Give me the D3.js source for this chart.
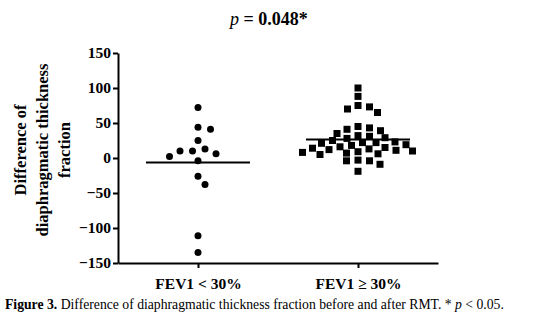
<!DOCTYPE html>
<html>
<head>
<meta charset="utf-8">
<script src="https://cdn.jsdelivr.net/npm/d3@7"></script>
<style>
  html, body { margin: 0; padding: 0; background: #fff; }
  svg { display: block; }
  .axis path, .axis line { stroke: #000; stroke-width: 2; }
  .axis text { font-family: "Liberation Serif", "Times New Roman", serif; font-weight: bold; font-size: 15.5px; fill: #000; }
</style>
</head>
<body>
<script>
// ---- data ----
const categories = ["FEV1 < 30%", "FEV1 \u2265 30%"];
const group1 = [72, 44, 41, 25, 13, 10, 10, 6, 2, -4, -26, -38, -111, -135];
const group2 = [100, 88, 75, 73, 70, 65, 45, 43, 41, 39, 35, 32, 31, 29, 28, 25, 23, 22, 22, 21,
                19, 18, 16, 15, 14, 13, 12, 11, 10, 9, 8, 7, 6, 5, -3, -4, -4, -9, -19];
const yTicks = [-150, -100, -50, 0, 50, 100, 150];
const titleText = "= 0.048*";
const yTitleLines = ["Difference of", "diaphragmatic thickness", "fraction"];

const W = 541, H = 325;
const svg = d3.select("body").append("svg").attr("width", W).attr("height", H);

const y = d3.scaleLinear().domain([-150, 150]).range([263, 53]);
const x = d3.scalePoint().domain(categories).range([118, 438]).padding(0.5);

// y axis
svg.append("g").attr("class", "axis")
  .attr("transform", "translate(118,0)")
  .call(d3.axisLeft(y).tickValues(yTicks).tickSize(5).tickSizeOuter(0).tickPadding(2).tickFormat(d3.format("d")));

// x axis
svg.append("g").attr("class", "axis")
  .attr("transform", "translate(0,263)")
  .call(d3.axisBottom(x).tickSize(5).tickSizeOuter(0).tickPadding(10));

// swarm layout (computed from values), elliptical collision
function swarm(values, cx, Dx, Dy) {
  const pts = values.map(v => ({ v, py: y(v) })).sort((a, b) => b.v - a.v);
  const placed = [];
  pts.forEach(p => {
    let best = null;
    for (let k = 0; k < 800; k++) {
      const off = Math.ceil(k / 2) * 0.5 * (k % 2 === 0 ? -1 : 1);
      const px = cx + off;
      const ok = placed.every(q => ((q.px - px) / Dx) ** 2 + ((q.py - p.py) / Dy) ** 2 >= 1);
      if (ok) { best = px; break; }
    }
    p.px = best;
    placed.push(p);
  });
  return placed;
}

const g1 = swarm(group1, x(categories[0]), 12.5, 10);
const g2 = swarm(group2, x(categories[1]), 11.5, 7.5);

svg.append("g").selectAll("circle").data(g1).join("circle")
  .attr("cx", d => d.px).attr("cy", d => d.py).attr("r", 3.5).attr("fill", "#000");

const s = 7;
svg.append("g").selectAll("rect").data(g2).join("rect")
  .attr("x", d => d.px - s / 2).attr("y", d => d.py - s / 2)
  .attr("width", s).attr("height", s).attr("fill", "#000");

// mean lines
[[group1, categories[0]], [group2, categories[1]]].forEach(([vals, c]) => {
  const m = d3.mean(vals);
  svg.append("line")
    .attr("x1", x(c) - 52).attr("x2", x(c) + 52)
    .attr("y1", y(m)).attr("y2", y(m))
    .attr("stroke", "#000").attr("stroke-width", 2);
});

// title
const t = svg.append("text").attr("x", 269).attr("y", 25).attr("text-anchor", "middle")
  .style("font-family", "'Liberation Serif', serif").style("font-size", "18px").style("font-weight", "bold");
t.append("tspan").style("font-style", "italic").style("font-weight", "normal").text("p");
t.append("tspan").text(" " + titleText);

// y title
const yt = svg.append("text")
  .attr("transform", "translate(43,150) rotate(-90)")
  .attr("text-anchor", "middle")
  .style("font-family", "'Liberation Serif', serif").style("font-size", "16.5px").style("font-weight", "bold");
yTitleLines.forEach((l, i) => {
  yt.append("tspan").attr("x", 0).attr("y", (i - 1) * 21.7 + 5).text(l);
});

// caption
const cap = svg.append("text").attr("x", 5).attr("y", 309)
  .style("font-family", "'Liberation Serif', serif").style("font-size", "13.7px").attr("fill", "#000");
cap.append("tspan").style("font-weight", "bold").text("Figure 3.");
cap.append("tspan").text(" Difference of diaphragmatic thickness fraction before and after RMT. * ");
cap.append("tspan").style("font-style", "italic").text("p");
cap.append("tspan").text(" < 0.05.");
</script>
</body>
</html>
